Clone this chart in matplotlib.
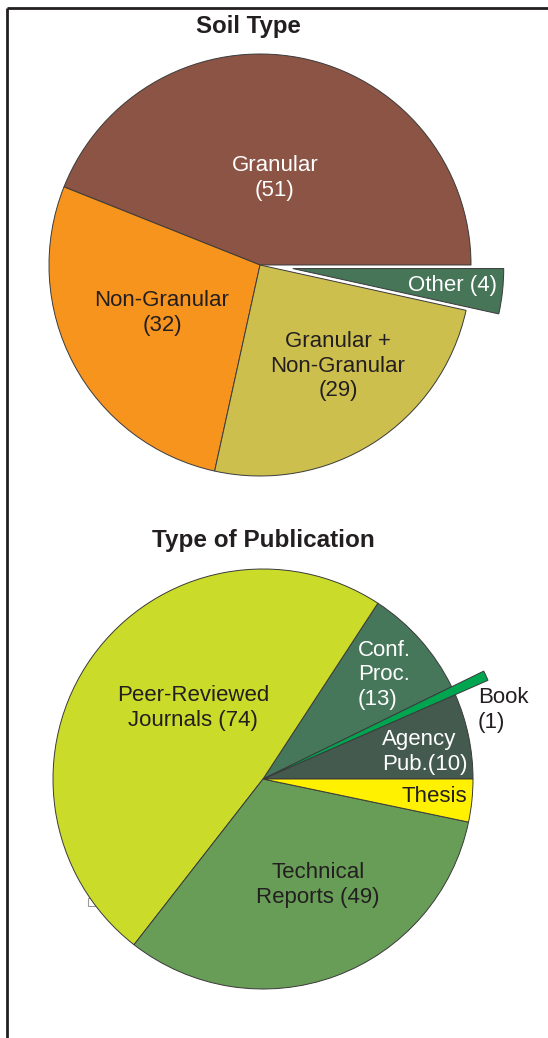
import matplotlib
matplotlib.use("Agg")
import matplotlib.pyplot as plt
from matplotlib.patches import Rectangle

plt.rcParams['font.family'] = ['Liberation Sans', 'DejaVu Sans']

# Soil type data
soil_labels = ["Granular\n(51)", "Non-Granular\n(32)", "Granular +\nNon-Granular\n(29)", "Other (4)"]
soil_counts = [51, 32, 29, 4]
soil_colors = ["#8B5444", "#F7941E", "#CDBF4E", "#467558"]
soil_explode = [0, 0, 0, 0.156]

# Type of publication data
pub_labels = ["Agency\nPub.(10)", "Book\n(1)", "Conf.\nProc.\n(13)", "Peer-Reviewed\nJournals (74)",
              "Technical\nReports (49)", "Thesis"]
pub_counts = [10, 1, 13, 74, 49, 5]
pub_colors = ["#445A4F", "#00A550", "#46775A", "#CBDB2A", "#679D56", "#FFF100"]

W, H = 548, 1038
fig = plt.figure(figsize=(W / 100, H / 100), dpi=100)
ax = fig.add_axes([0, 0, 1, 1])

def py(y):
    # pixel row -> data y
    return H - y

edge = dict(edgecolor="#3a3a3a", linewidth=0.7)

# little leftover box behind the lower pie
ax.add_patch(Rectangle((88, py(906)), 8, 8, facecolor="white", edgecolor="#9a9a9a", lw=0.8, zorder=0))

# --- Soil Type pie
r1 = 211
w1, _ = ax.pie(soil_counts, colors=soil_colors, explode=[e * r1 for e in soil_explode],
               startangle=0, counterclock=True, center=(260, py(265)), radius=r1, wedgeprops=edge)

soil_pos = [(275, 178), (162, 313), (338, 366), (452, 285)]
soil_txt = ["white", "#231F20", "#231F20", "white"]
for lab, (x, y), c in zip(soil_labels, soil_pos, soil_txt):
    ax.text(x, py(y), lab, ha="center", va="center", fontsize=16, color=c, linespacing=1.2)

ax.text(248, py(26), "Soil Type", ha="center", va="center", fontsize=17.3, fontweight="bold", color="#231F20")

# --- Type of Publication pie
r2 = 210
w2, _ = ax.pie(pub_counts, colors=pub_colors, startangle=0, counterclock=True,
               center=(263, py(779)), radius=r2, wedgeprops=edge)
# Book slice drawn longer than the rest
w2[1].set_radius(r2 * 1.17)
w2[1].set_zorder(w2[0].get_zorder() + 1)

pub_pos = [(382, 752, "left"), (478, 710, "left"), (358, 675, "left"),
           (193, 708, "center"), (318, 885, "center"), (402, 796, "left")]
pub_txt = ["white", "#231F20", "white", "#231F20", "#231F20", "#231F20"]
for lab, (x, y, ha), c in zip(pub_labels, pub_pos, pub_txt):
    ax.text(x, py(y), lab, ha=ha, va="center", fontsize=16, color=c, linespacing=1.2)

ax.text(263, py(540), "Type of Publication", ha="center", va="center", fontsize=17.5,
        fontweight="bold", color="#231F20")

# frame lines (left and top)
ax.plot([7, 7], [0, py(8)], color="#231F20", lw=2, solid_capstyle="butt")
ax.plot([7, W], [py(8), py(8)], color="#231F20", lw=2, solid_capstyle="butt")

ax.set_xlim(0, W)
ax.set_ylim(0, H)
ax.set_aspect("auto")
ax.axis("off")

fig.savefig("out.png", dpi=100)
